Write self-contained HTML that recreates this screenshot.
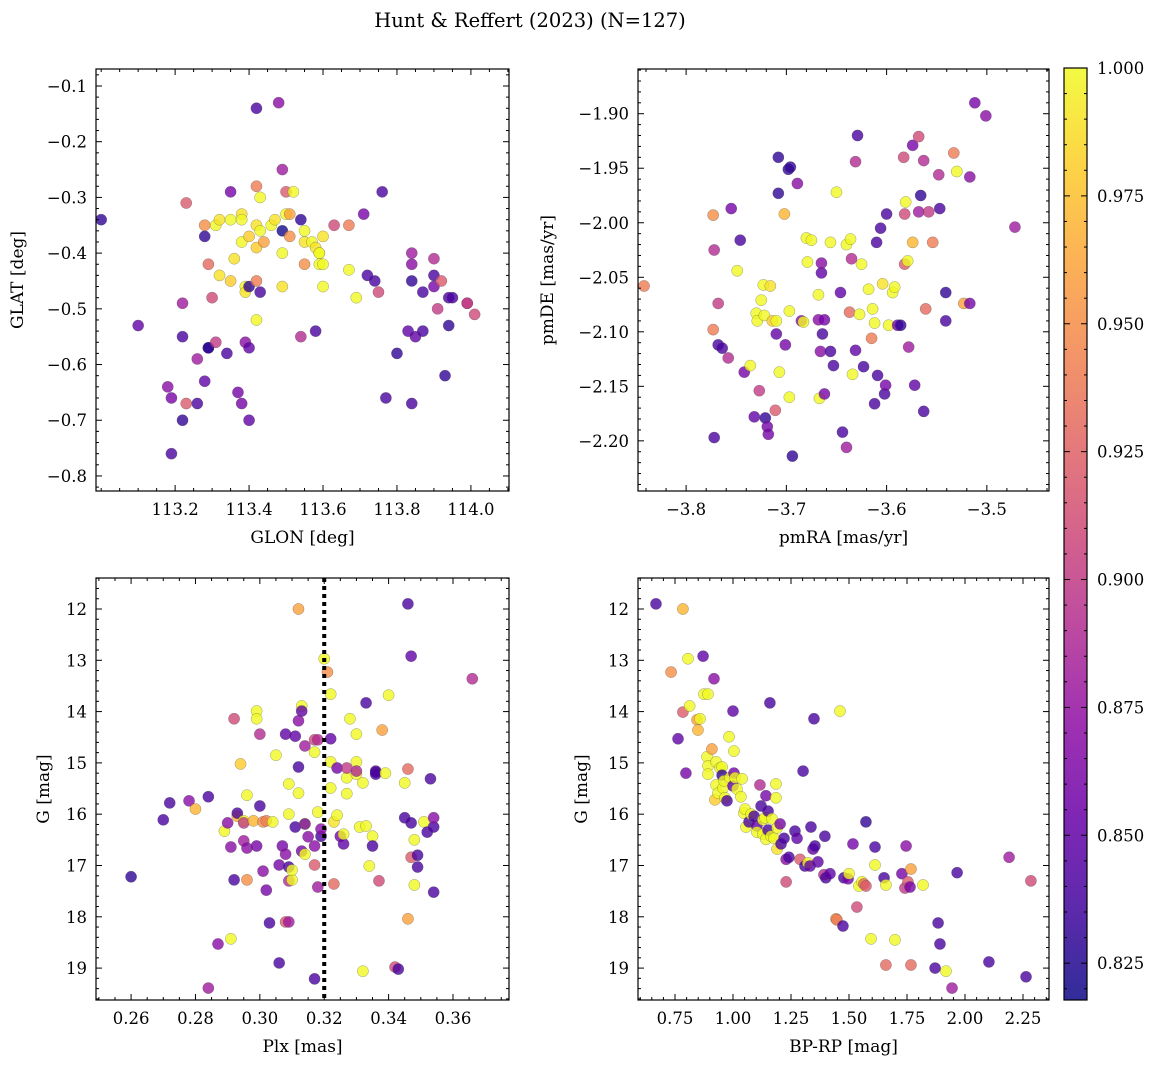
<!DOCTYPE html>
<html><head><meta charset="utf-8"><style>
html,body{margin:0;padding:0;background:#fff;}
svg{display:block;font-family:"DejaVu Serif","Liberation Serif",serif;}
</style></head><body>
<svg id="fig" width="1161" height="1068" viewBox="0 0 1161 1068" xmlns="http://www.w3.org/2000/svg">
<text x="530" y="27" font-size="19.5" text-anchor="middle">Hunt &amp; Reffert (2023) (N=127)</text>
</svg>
<script>
// ---- Panel 1: GLON / GLAT ----
const p1Glon=[113.00,113.10,113.18,113.19,113.19,113.22,113.22,113.22,113.23,113.23,113.26,113.26,113.28,113.28,113.28,113.29,113.29,113.29,113.30,113.31,113.31,113.32,113.32,113.34,113.35,113.35,113.36,113.35,113.37,113.38,113.38,113.38,113.38,113.39,113.39,113.39,113.40,113.40,113.40,113.40,113.42,113.42,113.42,113.42,113.42,113.42,113.43,113.43,113.43,113.44,113.46,113.47,113.48,113.49,113.49,113.49,113.49,113.50,113.50,113.51,113.51,113.52,113.54,113.54,113.55,113.55,113.55,113.57,113.58,113.58,113.59,113.59,113.59,113.60,113.60,113.60,113.63,113.67,113.67,113.69,113.71,113.72,113.75,113.74,113.76,113.77,113.80,113.84,113.84,113.84,113.84,113.83,113.85,113.87,113.87,113.90,113.90,113.90,113.91,113.92,113.93,113.94,113.94,113.95,113.99,113.99,114.01];
const p1Glat=[-0.34,-0.53,-0.64,-0.76,-0.66,-0.49,-0.55,-0.70,-0.31,-0.67,-0.67,-0.59,-0.35,-0.37,-0.63,-0.42,-0.57,-0.57,-0.48,-0.56,-0.35,-0.34,-0.44,-0.58,-0.29,-0.34,-0.41,-0.45,-0.65,-0.67,-0.33,-0.34,-0.38,-0.46,-0.47,-0.56,-0.70,-0.57,-0.46,-0.37,-0.35,-0.39,-0.52,-0.45,-0.14,-0.28,-0.30,-0.36,-0.47,-0.38,-0.35,-0.34,-0.13,-0.25,-0.36,-0.40,-0.46,-0.33,-0.29,-0.33,-0.37,-0.29,-0.34,-0.55,-0.38,-0.36,-0.42,-0.38,-0.54,-0.39,-0.40,-0.42,-0.40,-0.37,-0.46,-0.42,-0.35,-0.35,-0.43,-0.48,-0.33,-0.44,-0.47,-0.45,-0.29,-0.66,-0.58,-0.67,-0.40,-0.42,-0.45,-0.54,-0.55,-0.47,-0.54,-0.44,-0.46,-0.41,-0.50,-0.45,-0.62,-0.53,-0.48,-0.48,-0.49,-0.49,-0.51];
const p1Prob=[.83,.85,.87,.84,.86,.88,.84,.83,.92,.92,.84,.88,.95,.83,.85,.93,.82,.83,.91,.90,1,.99,.99,.84,.86,1,.99,.98,.86,.86,.99,1,1,1,.99,.87,.85,.85,.83,.98,.99,.98,1,.94,.84,.94,1,1,.84,.96,1,.99,.87,.88,.82,1,.99,1,.92,.96,.95,1,.83,.89,.99,1,.95,1,.84,.99,1,1,1,.99,1,1,.91,.94,1,1,.86,.84,.91,.84,.84,.84,.83,.84,.88,.87,.83,.85,.85,.84,.84,.84,.86,.89,.90,.92,.83,.83,.84,.84,.90,.90,.91];
const p1XTicks=[113.2,113.4,113.6,113.8,114.0];
const p1YTicks=[-0.1,-0.2,-0.3,-0.4,-0.5,-0.6,-0.7,-0.8];
// ---- Panel 2: pmRA / pmDE ----
const p2PmRA=[-3.842,-3.773,-3.772,-3.773,-3.772,-3.768,-3.768,-3.764,-3.758,-3.755,-3.749,-3.746,-3.742,-3.736,-3.732,-3.730,-3.729,-3.727,-3.725,-3.723,-3.722,-3.721,-3.719,-3.718,-3.716,-3.714,-3.711,-3.710,-3.710,-3.708,-3.707,-3.708,-3.702,-3.701,-3.698,-3.696,-3.697,-3.697,-3.694,-3.689,-3.685,-3.683,-3.680,-3.679,-3.675,-3.668,-3.668,-3.667,-3.666,-3.665,-3.665,-3.664,-3.662,-3.662,-3.656,-3.656,-3.653,-3.650,-3.646,-3.644,-3.640,-3.640,-3.637,-3.635,-3.636,-3.634,-3.631,-3.629,-3.631,-3.627,-3.625,-3.623,-3.618,-3.615,-3.614,-3.612,-3.610,-3.609,-3.606,-3.612,-3.604,-3.602,-3.601,-3.600,-3.598,-3.594,-3.592,-3.589,-3.586,-3.583,-3.582,-3.582,-3.581,-3.579,-3.578,-3.574,-3.574,-3.572,-3.568,-3.568,-3.566,-3.563,-3.563,-3.561,-3.558,-3.554,-3.548,-3.547,-3.541,-3.541,-3.533,-3.530,-3.523,-3.517,-3.517,-3.512,-3.501,-3.472];
const p2PmDE=[-2.058,-1.993,-2.025,-2.098,-2.197,-2.074,-2.112,-2.115,-2.124,-1.987,-2.044,-2.016,-2.137,-2.131,-2.178,-2.083,-2.090,-2.154,-2.071,-2.057,-2.085,-2.179,-2.187,-2.194,-2.058,-2.090,-2.172,-2.090,-2.102,-1.940,-2.137,-1.973,-1.992,-2.112,-1.951,-1.949,-2.081,-2.160,-2.214,-1.964,-2.090,-2.091,-2.014,-2.036,-2.016,-2.066,-2.089,-2.161,-2.118,-2.046,-2.037,-2.102,-2.089,-2.157,-2.018,-2.118,-2.131,-1.972,-2.064,-2.192,-2.206,-2.020,-2.082,-2.033,-2.015,-2.139,-2.117,-1.920,-1.944,-2.084,-2.038,-2.132,-2.061,-2.106,-2.079,-2.092,-2.018,-2.140,-2.005,-2.166,-2.056,-2.157,-2.149,-1.992,-2.094,-2.064,-2.059,-2.094,-2.094,-1.940,-2.038,-1.992,-1.981,-2.035,-2.114,-2.018,-1.929,-2.149,-1.921,-1.990,-1.975,-1.943,-2.173,-2.079,-1.990,-2.018,-1.956,-1.987,-2.064,-2.090,-1.936,-1.953,-2.074,-2.074,-1.958,-1.890,-1.902,-2.004];
const p2Prob=[.94,.95,.89,.94,.84,.9,.84,.84,.89,.86,1,.84,.86,1,.85,1,1,.9,1,1,1,.83,.86,.86,.99,.98,.92,1,.85,.83,1,.83,.97,.86,.83,.83,1,1,.83,.87,.87,1,1,1,1,1,.87,1,.87,.85,.87,.84,.86,.86,1,.84,.84,1,.85,.84,.88,1,.93,.89,1,1,.85,.84,.89,1,1,.84,1,.94,1,1,.84,.84,.84,.84,.99,.84,.86,.84,1,1,1,.86,.83,.91,.92,.91,1,1,.88,.97,.86,.85,.91,.88,.83,.89,.84,.93,.9,.94,.89,.84,.83,.84,.94,1,.96,.86,.87,.86,.87,.88];
const p2XTicks=[-3.8,-3.7,-3.6,-3.5];
const p2YTicks=[-1.90,-1.95,-2.00,-2.05,-2.10,-2.15,-2.20];
// ---- Panel 3: Plx / G ----
const p3Plx=[.260,.270,.272,.278,.280,.284,.284,.287,.289,.290,.291,.291,.292,.292,.293,.293,.294,.295,.295,.295,.296,.296,.296,.298,.299,.299,.299,.300,.300,.301,.301,.302,.302,.303,.304,.305,.306,.306,.307,.308,.308,.308,.309,.309,.309,.309,.309,.310,.310,.311,.311,.312,.312,.312,.312,.313,.313,.313,.314,.314,.314,.315,.314,.317,.317,.317,.317,.317,.318,.318,.318,.319,.319,.320,.321,.322,.322,.322,.322,.323,.323,.324,.324,.325,.326,.326,.327,.327,.327,.328,.330,.330,.330,.330,.331,.332,.332,.333,.333,.334,.335,.335,.336,.336,.336,.337,.338,.339,.340,.342,.343,.345,.345,.346,.346,.346,.347,.347,.347,.348,.348,.349,.349,.351,.352,.353,.354,.354,.354,.366];
const p3G=[17.22,16.11,15.78,15.74,15.90,15.66,19.39,18.53,16.33,16.17,16.64,18.43,14.14,17.28,16.04,15.98,15.02,16.13,16.52,16.17,17.28,16.66,15.63,16.13,16.62,13.99,14.14,14.44,15.84,16.15,17.11,17.48,16.13,18.12,16.15,14.85,18.90,16.99,16.62,16.78,14.44,18.10,18.10,16.00,15.41,17.30,17.03,17.28,17.09,14.48,16.25,15.59,15.08,12.00,14.18,16.72,13.89,13.99,16.19,16.19,14.67,16.44,16.78,16.62,19.21,14.55,14.79,16.99,17.42,14.55,15.96,16.43,16.29,12.97,13.23,15.49,13.66,14.53,14.98,16.15,17.36,15.10,16.02,16.43,16.58,16.39,15.60,15.29,15.10,14.14,14.98,14.44,15.22,15.16,16.25,19.06,15.39,16.23,13.83,17.01,16.43,16.62,15.16,15.18,15.22,17.30,14.36,15.20,13.68,18.98,19.02,16.07,15.39,15.12,18.04,11.90,12.92,16.17,16.84,16.50,17.38,16.80,17.03,16.15,16.35,15.31,17.52,16.25,16.07,13.36];
const p3Prob=[.83,.84,.84,.87,.97,.84,.88,.87,1,.87,.87,1,.91,.84,.97,.84,.98,1,.88,.9,.95,.87,1,.97,.86,1,1,.89,.84,.95,.87,.86,.94,.84,1,1,.84,.86,.86,.87,.85,.92,.88,1,1,.89,.84,1,1,.85,.84,1,.84,.96,.87,.86,1,.85,1,.86,.88,.87,1,.87,.84,.91,1,.92,.88,.89,1,.84,.87,1,.95,1,1,.85,1,.99,.93,.86,1,.86,.85,1,1,1,.9,1,1,1,1,.89,1,1,1,1,.84,1,1,.84,.85,.84,.84,.91,.96,1,1,.91,.84,.84,1,.93,.96,.84,.85,.84,.92,1,1,.84,.84,1,.84,.84,.84,.84,.87,.89];
const p3XTicks=[0.26,0.28,0.30,0.32,0.34,0.36];
const gTicks=[12,13,14,15,16,17,18,19];
const plxRef=[0.32];
// ---- Panel 4: BP-RP / G ----
const p4BpRp=[.668,.733,.763,.784,.784,.797,.806,.813,.845,.849,.858,.871,.875,.888,.892,.892,.892,.909,.918,.922,.927,.927,.935,.944,.953,.953,.957,.961,.965,.974,.983,.987,1.000,1.000,1.004,1.004,1.009,1.017,1.034,1.039,1.047,1.052,1.056,1.069,1.078,1.091,1.103,1.103,1.116,1.121,1.129,1.129,1.138,1.142,1.142,1.151,1.151,1.159,1.164,1.168,1.177,1.185,1.185,1.190,1.190,1.203,1.207,1.220,1.229,1.229,1.241,1.267,1.276,1.289,1.302,1.310,1.323,1.332,1.336,1.345,1.349,1.353,1.366,1.392,1.396,1.400,1.418,1.444,1.448,1.461,1.474,1.478,1.496,1.500,1.517,1.534,1.543,1.556,1.564,1.573,1.573,1.595,1.612,1.612,1.651,1.659,1.728,1.741,1.754,1.763,1.767,1.819,1.746,1.698,1.659,1.871,1.884,1.892,1.966,1.944,1.918,1.767,2.103,2.190,2.263,2.284];
const p4G=[11.90,13.23,14.53,12.00,14.01,15.20,12.97,13.89,14.16,14.36,14.14,12.92,13.66,14.88,13.66,15.06,15.22,14.73,13.36,15.72,15.43,14.98,15.59,15.10,15.08,15.24,15.49,15.35,15.68,15.74,14.49,15.29,13.99,15.45,15.20,14.77,15.29,15.51,15.66,15.31,15.98,15.90,16.25,16.15,16.00,16.04,16.23,16.35,15.43,15.84,16.11,16.39,16.07,15.64,16.49,15.94,16.31,13.83,16.43,16.09,16.47,15.41,15.68,16.27,16.68,16.19,16.58,16.47,16.88,17.32,16.84,16.33,16.47,16.88,15.16,17.01,16.95,17.01,16.25,16.68,14.14,16.62,16.93,17.18,16.43,17.24,17.16,18.04,18.06,13.99,18.18,17.24,17.26,17.16,16.58,17.81,17.40,17.32,17.36,17.40,16.15,18.43,16.99,16.64,17.24,17.38,17.16,17.44,17.32,17.42,17.07,17.38,16.62,18.45,18.94,19.00,18.12,18.53,17.14,19.39,19.06,18.94,18.88,16.84,19.17,17.30];
const p4Prob=[.84,.95,.85,.97,.92,.86,1,1,.96,.97,1,.85,1,1,1,1,1,.96,.87,.98,1,1,1,1,1,.83,1,1,1,.84,1,1,.85,.85,.86,1,1,1,1,1,1,1,1,.84,1,.84,.85,1,.89,.84,1,1,1,.86,1,.84,.84,.84,1,1,1,1,1,1,.99,.86,.84,.84,.87,.91,.84,.84,.85,.92,.84,.84,1,.85,.84,.85,.84,.84,.85,.89,.84,.84,.85,.95,.94,1,.84,.84,.86,1,.86,.91,1,1,.93,.92,.83,1,1,.84,.84,1,.86,.9,.92,.86,.96,1,.87,1,.93,.84,.84,.84,.84,.88,1,.93,.84,.88,.84,.91];
const p4XTicks=[0.75,1.00,1.25,1.50,1.75,2.00,2.25];
// ---- Colorbar ----
const cbTicks=[0.825,0.850,0.875,0.900,0.925,0.950,0.975,1.000];
const cbRange=[0.8178,1.0];

const NS='http://www.w3.org/2000/svg';
const svg=document.getElementById('fig');
function mk(tag,attrs,parent){const e=document.createElementNS(NS,tag);for(const k in attrs)e.setAttribute(k,attrs[k]);(parent||svg).appendChild(e);return e;}
const plasmaStops=['#0d0887','#41049d','#6a00a8','#8f0da4','#b12a90','#cc4778','#e16462','#f2844b','#fca636','#fcce25','#f0f921'];
function hex(h){return [1,3,5].map(i=>parseInt(h.substr(i,2),16));}
function plasma(t){t=Math.max(0,Math.min(1,t));const f=t*10,i=Math.min(9,Math.floor(f)),r=f-i;const a=hex(plasmaStops[i]),b=hex(plasmaStops[i+1]);return 'rgb('+a.map((v,k)=>Math.round(v+(b[k]-v)*r)).join(',')+')';}
function cmap(p){return plasma((p-cbRange[0])/(cbRange[1]-cbRange[0]));}
function lin(d0,d1,r0,r1){return v=>r0+(v-d0)/(d1-d0)*(r1-r0);}
function fmt(v,dec){return (v<0?'\u2212':'')+Math.abs(v).toFixed(dec);}

function panel(o){
  const g=mk('g',{});
  
  
  const sx=lin(o.xd[0],o.xd[1],o.x0,o.x1), sy=lin(o.yd[0],o.yd[1],o.y1,o.y0);
  const pts=mk('g',{},g);
  
  
  const n=Math.min(o.xs.length,o.ys.length,o.ps.length);
  for(let i=0;i<n;i++){
    const c=mk('circle',{cx:sx(o.xs[i]),cy:sy(o.ys[i]),r:5.6,fill:cmap(o.ps[i]),'fill-opacity':0.8,stroke:'#444','stroke-opacity':0.5,'stroke-width':0.5},pts);
    
    
  }
  if(o.vline){o.vline.forEach(v=>{const l=mk('line',{x1:sx(v),x2:sx(v),y1:o.y0,y2:o.y1,stroke:'#000','stroke-width':4,'stroke-dasharray':'4,4'},g);
    
    });}
  const fr=mk('rect',{x:o.x0,y:o.y0,width:o.x1-o.x0,height:o.y1-o.y0,fill:'none',stroke:'#000','stroke-width':1.2},g);
  
  
  const xs=o.xt[1]-o.xt[0], xm=xs/o.xminor;
  for(let v=o.xt[0]-Math.ceil((o.xt[0]-o.xd[0])/xm)*xm; v<=o.xd[1]+1e-9; v+=xm){
    const px=sx(v); if(px<o.x0||px>o.x1)continue;
    const major=o.xt.some(t=>Math.abs(t-v)<xm/10); const L=major?6:3;
    mk('line',{x1:px,x2:px,y1:o.y1,y2:o.y1-L,stroke:'#000','stroke-width':1},g);
    mk('line',{x1:px,x2:px,y1:o.y0,y2:o.y0+L,stroke:'#000','stroke-width':1},g);
  }
  o.xt.forEach(v=>{const t=mk('text',{x:sx(v),y:o.y1+24,'font-size':16.5,'text-anchor':'middle'},g);t.textContent=fmt(v,o.xdec);
    });
  const ys=Math.abs(o.yt[1]-o.yt[0]), ym=ys/o.yminor;
  const ylo=Math.min(o.yd[0],o.yd[1]), yhi=Math.max(o.yd[0],o.yd[1]);
  const ybase=Math.min(...o.yt);
  for(let v=ybase-Math.ceil((ybase-ylo)/ym)*ym; v<=yhi+1e-9; v+=ym){
    const py=sy(v); if(py<o.y0||py>o.y1)continue;
    const major=o.yt.some(t=>Math.abs(t-v)<ym/10); const L=major?6:3;
    mk('line',{x1:o.x0,x2:o.x0+L,y1:py,y2:py,stroke:'#000','stroke-width':1},g);
    mk('line',{x1:o.x1,x2:o.x1-L,y1:py,y2:py,stroke:'#000','stroke-width':1},g);
  }
  o.yt.forEach(v=>{const t=mk('text',{x:o.x0-9,y:sy(v)+6,'font-size':16.5,'text-anchor':'end'},g);t.textContent=fmt(v,o.ydec);
    });
  const xl=mk('text',{x:(o.x0+o.x1)/2,y:o.y1+52,'font-size':17,'text-anchor':'middle'},g);xl.textContent=o.xlabel;
  
  const yx=o.ylx, yy=(o.y0+o.y1)/2;
  const yl=mk('text',{x:yx,y:yy,'font-size':17,'text-anchor':'middle',transform:'rotate(-90 '+yx+' '+yy+')'},g);yl.textContent=o.ylabel;
  
}
panel({name:'glon-glat-panel',x0:96,x1:509,y0:69,y1:491,xd:[112.986,114.103],yd:[-0.827,-0.0695],xs:p1Glon,ys:p1Glat,ps:p1Prob,xt:p1XTicks,yt:p1YTicks,xminor:4,yminor:5,xdec:1,ydec:1,xlabel:'GLON [deg]',ylabel:'GLAT [deg]',ylx:23});
panel({name:'proper-motion-panel',x0:638,x1:1049,y0:69,y1:491,xd:[-3.848,-3.438],yd:[-2.246,-1.859],xs:p2PmRA,ys:p2PmDE,ps:p2Prob,xt:p2XTicks,yt:p2YTicks,xminor:5,yminor:5,xdec:1,ydec:2,xlabel:'pmRA [mas/yr]',ylabel:'pmDE [mas/yr]',ylx:553});
panel({name:'parallax-mag-panel',x0:96,x1:509,y0:578,y1:1000,xd:[0.2491,0.3774],yd:[19.622,11.396],xs:p3Plx,ys:p3G,ps:p3Prob,xt:p3XTicks,yt:gTicks,xminor:4,yminor:5,xdec:2,ydec:0,xlabel:'Plx [mas]',ylabel:'G [mag]',ylx:49,vline:plxRef});
panel({name:'cmd-panel',x0:638,x1:1049,y0:578,y1:1000,xd:[0.5905,2.362],yd:[19.622,11.396],xs:p4BpRp,ys:p4G,ps:p4Prob,xt:p4XTicks,yt:gTicks,xminor:5,yminor:5,xdec:2,ydec:0,xlabel:'BP-RP [mag]',ylabel:'G [mag]',ylx:587});

(function(){
  const x0=1064,x1=1087,y0=68,y1=1000;
  const cb=mk('g',{});
  
  
  const defs=mk('defs',{},cb);
  const lg=mk('linearGradient',{id:'cbg',x1:0,y1:1,x2:0,y2:0},defs);
  for(let i=0;i<=20;i++){mk('stop',{offset:i/20,'stop-color':plasma(i/20),'stop-opacity':0.85},lg);}
  mk('rect',{x:x0,y:y0,width:x1-x0,height:y1-y0,fill:'url(#cbg)',stroke:'#000','stroke-width':1.2},cb);
  const s=lin(cbRange[0],cbRange[1],y1,y0);
  for(let v=0.82;v<=1.0001;v+=0.005){const py=s(v);if(py<y0||py>y1)continue;
    const major=cbTicks.some(t=>Math.abs(t-v)<1e-4);
    mk('line',{x1:x1,x2:x1-(major?6:3),y1:py,y2:py,stroke:'#000','stroke-width':1},cb);
    mk('line',{x1:x0,x2:x0+(major?6:3),y1:py,y2:py,stroke:'#000','stroke-width':1},cb);}
  cbTicks.forEach(v=>{const t=mk('text',{x:x1+10,y:s(v)+6,'font-size':16.5},cb);t.textContent=v.toFixed(3);
    });
})();
</script>
</body></html>
